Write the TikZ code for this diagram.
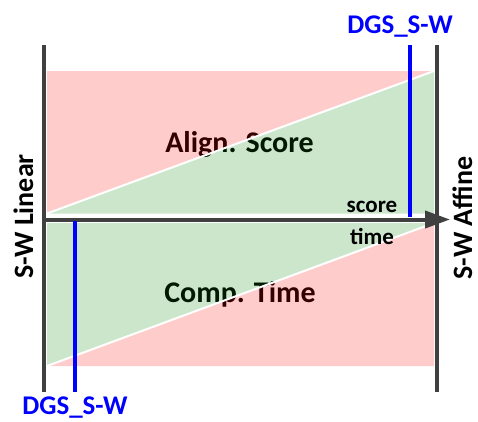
\documentclass[tikz,border=0pt]{standalone}
\usepackage{fontspec}
\setmainfont{Carlito}
\usetikzlibrary{arrows.meta}
\definecolor{axisgray}{RGB}{64,64,64}
\definecolor{dgsblue}{RGB}{0,0,255}
\definecolor{pinkfill}{RGB}{255,0,0}
\definecolor{greenfill}{RGB}{0,128,0}
\tikzset{
  biglabel/.style={font=\fontsize{30}{30}\selectfont\bfseries, text=black, inner sep=0pt, anchor=base},
  sidelabel/.style={font=\fontsize{28}{28}\selectfont\bfseries, text=black, inner sep=0pt, anchor=base, rotate=90, text depth=0pt},
  smalllabel/.style={font=\fontsize{23}{23}\selectfont\bfseries, text=black, inner sep=0pt, anchor=base},
  dgslabel/.style={font=\fontsize{27}{27}\selectfont\bfseries, text=dgsblue, inner sep=0pt, anchor=base},
  pinkarea/.style={fill=pinkfill, fill opacity=0.2},
  greenarea/.style={fill=greenfill, fill opacity=0.2},
  diagline/.style={draw=white, line width=2pt},
  axisline/.style={draw=axisgray, line width=4pt},
  dgsline/.style={draw=dgsblue, line width=3.3pt},
}
\begin{document}
\begin{tikzpicture}[x=1pt, y=-1pt]
\useasboundingbox (0,0) rectangle (478,421);
% texts under translucent areas
\node[biglabel] (align) at (239.5,152) {Align. Score};
\node[biglabel] (comp) at (240,302) {Comp. Time};
% coordinates of areas
\coordinate (tl) at (47,71);
\coordinate (tr) at (434,71);
\coordinate (bl) at (47,213.5);
\coordinate (br) at (434,213.5);
\coordinate (ltl) at (47,223);
\coordinate (ltr) at (434,223);
\coordinate (lbl) at (47,366);
\coordinate (lbr) at (434,366);
% upper area
\fill[pinkarea] (tl) -- (tr) -- (bl) -- cycle;
\fill[greenarea] (bl) -- (tr) -- (br) -- cycle;
\draw[diagline] (bl) -- (tr);
% lower area
\fill[greenarea] (ltl) -- (ltr) -- (lbl) -- cycle;
\fill[pinkarea] (lbl) -- (ltr) -- (lbr) -- cycle;
\draw[diagline] (lbl) -- (ltr);
% vertical axes
\coordinate (lt) at (44,45);
\coordinate (lb) at (44,392);
\coordinate (rt) at (437,45);
\coordinate (rb) at (437,392);
\draw[axisline] (lt) -- (lb);
\draw[axisline] (rt) -- (rb);
% horizontal arrow
\coordinate (as) at (44,219.5);
\coordinate (ae) at (450,219.5);
\draw[axisline, -{Triangle[length=25pt, width=17pt]}] (as) -- (ae);
% DGS lines
\coordinate (ut) at (410,45);
\coordinate (ub) at (410,217);
\coordinate (dt) at (75,221);
\coordinate (db) at (75,392);
\draw[dgsline] (ut) -- (ub);
\draw[dgsline] (dt) -- (db);
% labels
\node[dgslabel] (dgstop) at (400,33) {DGS\_S-W};
\node[dgslabel] (dgsbot) at (75,414) {DGS\_S-W};
\node[smalllabel] (score) at (372,212) {score};
\node[smalllabel] (time) at (372,244) {time};
\node[sidelabel] (lin) at (33,216.5) {S-W Linear};
\node[sidelabel] (aff) at (472,218) {S-W Affine};
\end{tikzpicture}
\end{document}
